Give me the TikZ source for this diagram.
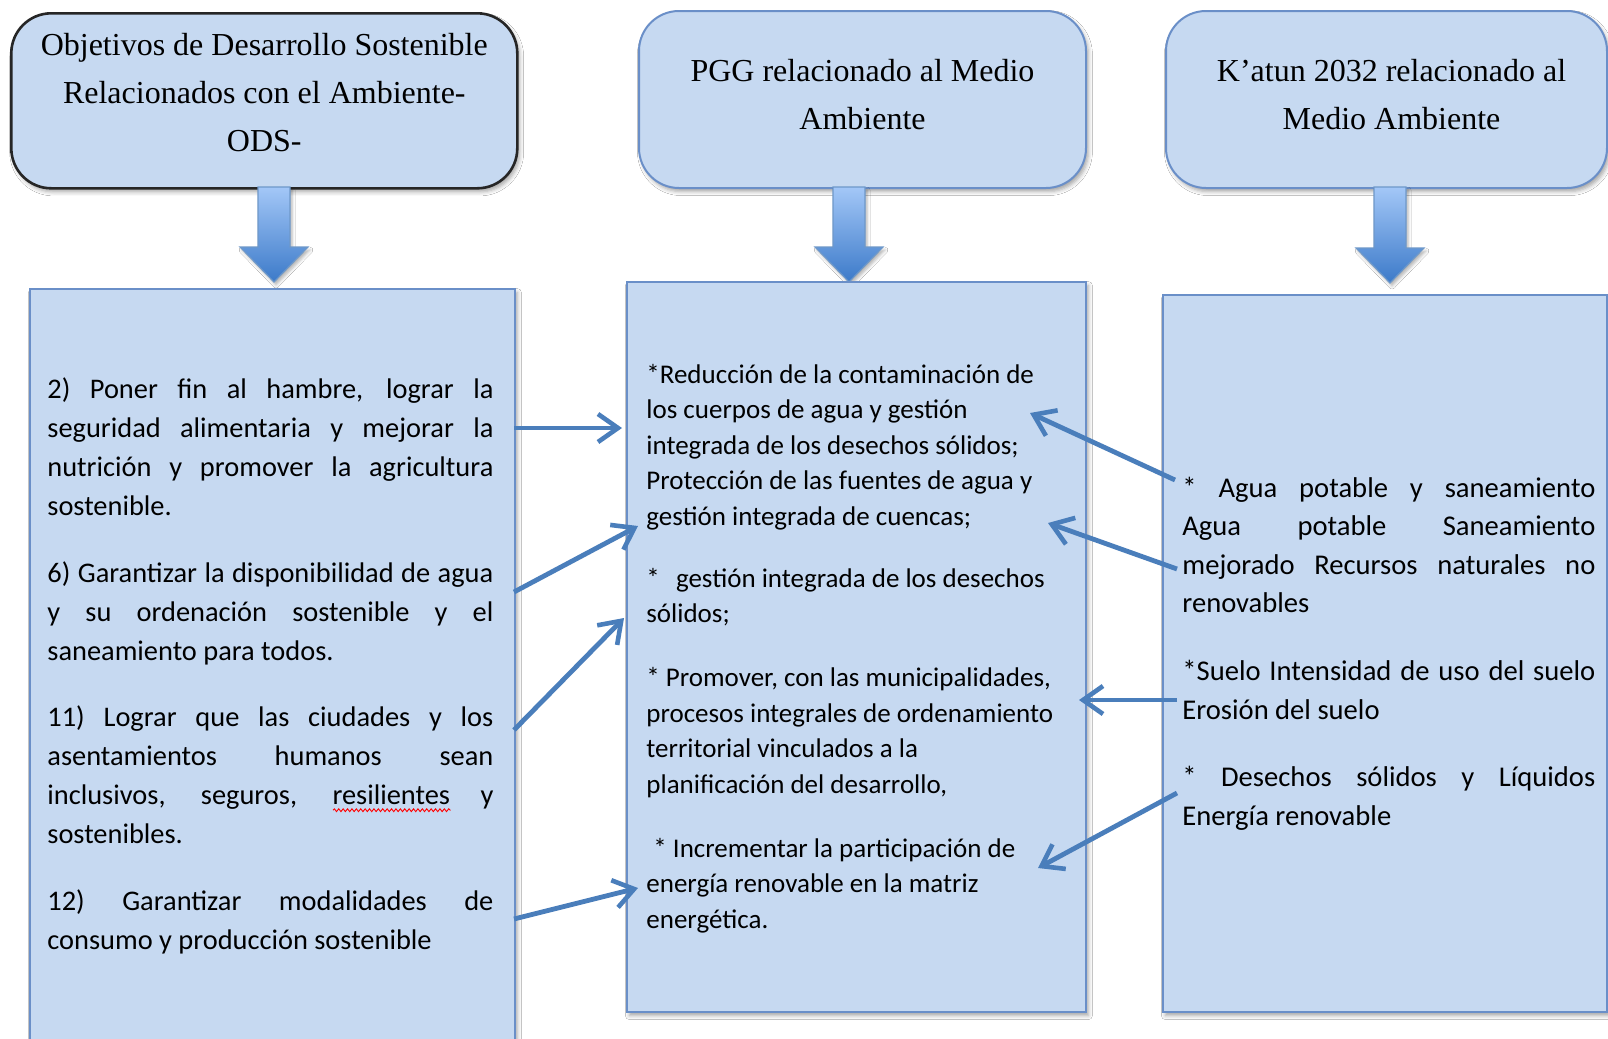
\documentclass[tikz,border=0pt]{standalone}
\usepackage{fontspec}
\setmainfont{Liberation Serif}
\newfontfamily\calfont{Carlito}
\usetikzlibrary{arrows.meta,shadows.blur,decorations.pathmorphing}
\definecolor{boxfill}{HTML}{C6D9F1}
\definecolor{boxline}{HTML}{6A8FC8}
\definecolor{arrowblue}{HTML}{4A7EBB}
\definecolor{shadetop}{HTML}{A3C7F7}
\definecolor{shadebot}{HTML}{3C7AC9}
\newsavebox\wavebox
\newcommand\redwave[1]{\sbox\wavebox{#1}\rlap{\usebox\wavebox}\raisebox{-3pt}{\tikz[baseline=0pt]\draw[red,line width=0.45pt,decorate,decoration={snake,amplitude=0.7pt,segment length=2.2pt}] (0pt,0pt) -- (\wd\wavebox,0pt);}}
\newcommand\jl[1]{\makebox[\linewidth][s]{\spaceskip=0pt\xspaceskip=0pt #1}}
\newcommand\natsp{\spaceskip=0pt\xspaceskip=0pt\relax}
\newcommand\blockdown[3]{%
  \shade[top color=shadetop,bottom color=shadebot,draw=arrowblue!80,line width=0.6pt,
    blur shadow={shadow xshift=1pt,shadow yshift=-1.5pt,shadow blur radius=1.5pt,shadow opacity=30}]
  (#1-16,#2) -- (#1+16,#2) -- (#1+16,#3-35) -- (#1+34,#3-35) -- (#1,#3)
  -- (#1-34,#3-35) -- (#1-16,#3-35) -- cycle;}
\begin{document}
\begin{tikzpicture}[x=0.5pt,y=-0.5pt,
  shad/.style={blur shadow={shadow xshift=1.2pt,shadow yshift=-1.8pt,shadow blur radius=2pt,shadow opacity=35}},
  topbox/.style={rectangle,rounded corners=20pt,fill=boxfill,draw=boxline,line width=1pt,shad,
    inner sep=0pt,anchor=north west},
  ttl/.style={align=center,inner sep=0pt,font=\fontsize{16}{24}\selectfont},
  botbox/.style={rectangle,fill=boxfill,draw=boxline,line width=1pt,shad,inner sep=0pt,anchor=north west},
  txt/.style={inner sep=0pt,align=left,anchor=base west},
  conn/.style={draw=arrowblue,line width=2.4pt,-{Straight Barb[length=10pt,width=14pt,line width=2.3pt]}},
]
\useasboundingbox[fill=white] (0,0) rectangle (1608,1039);

% top boxes
\node[topbox,draw=black!85,line width=1.3pt,minimum width=253pt,minimum height=87.5pt] (t1) at (10,12) {};
\node[topbox,minimum width=223.5pt,minimum height=88.5pt] (t2) at (638,10) {};
\node[topbox,minimum width=220.5pt,minimum height=88.5pt] (t3) at (1165,10) {};
\node[ttl,yshift=4pt] (t1txt) at (t1.center) {Objetivos de Desarrollo Sostenible\\Relacionados con el Ambiente-\\ODS-};
\node[ttl,yshift=2.5pt] (t2txt) at (t2.center) {PGG relacionado al Medio\\Ambiente};
\node[ttl,yshift=2.5pt,xshift=2.5pt] (t3txt) at (t3.center) {K’atun 2032 relacionado al\\Medio Ambiente};

% block arrows
\blockdown{274}{187}{282}
\blockdown{849}{187}{282}
\blockdown{1390}{187}{283}

% bottom boxes
\node[botbox,minimum width=242.5pt,minimum height=390pt] (L) at (29,288) {};
\node[botbox,minimum width=229.5pt,minimum height=365pt] (M) at (626,281) {};
\node[botbox,minimum width=222pt,minimum height=358.5pt] (R) at (1162,294) {};

% left text
\node[txt,text width=223pt,font=\calfont\fontsize{14.2}{19.5}\selectfont] (ltx) at (47,398) {\natsp
\jl{2) Poner fin al hambre, lograr la}\\
\jl{seguridad alimentaria y mejorar la}\\
\jl{nutrición y promover la agricultura}\\
sostenible.\\[14.3pt]
\jl{6) Garantizar la disponibilidad de agua}\\
\jl{y su ordenación sostenible y el}\\
saneamiento para todos.\\[13.3pt]
\jl{11) Lograr que las ciudades y los}\\
\jl{asentamientos humanos sean}\\
\jl{inclusivos, seguros, \redwave{resilientes} y}\\
sostenibles.\\[13.9pt]
\jl{12) Garantizar modalidades de}\\
consumo y producción sostenible};

% middle text
\node[txt,text width=225pt,font=\calfont\fontsize{13.5}{17.75}\selectfont] (mtx) at (646,383) {\natsp
{*}Reducción de la contaminación de\\
los cuerpos de agua y gestión\\
integrada de los desechos sólidos;\\
Protección de las fuentes de agua y\\
gestión integrada de cuencas;\\[13.25pt]
{*}\hspace{0.6em}gestión integrada de los desechos\\
sólidos;\\[14.25pt]
{*} Promover, con las municipalidades,\\
procesos integrales de ordenamiento\\
territorial vinculados a la\\
planificación del desarrollo,\\[14.25pt]
\hspace*{3.5pt}{*} Incrementar la participación de\\
energía renovable en la matriz\\
energética.};

% right text
\node[txt,text width=206.5pt,font=\calfont\fontsize{14.3}{19.3}\selectfont] (rtx) at (1182,497) {\natsp
\jl{{*} Agua potable y saneamiento}\\
\jl{Agua potable Saneamiento}\\
\jl{mejorado Recursos naturales no}\\
renovables\\[14.5pt]
\jl{{*}Suelo Intensidad de uso del suelo}\\
Erosión del suelo\\[14.5pt]
\jl{{*} Desechos sólidos y Líquidos}\\
Energía renovable};

% connector end points
\coordinate (a1s) at (514,428); \coordinate (a1e) at (622,428);
\coordinate (a2s) at (514,592); \coordinate (a2e) at (638,526);
\coordinate (a3s) at (514,730); \coordinate (a3e) at (624,618);
\coordinate (a4s) at (514,919); \coordinate (a4e) at (638,888);
\coordinate (b1s) at (1175,480); \coordinate (b1e) at (1030,413);
\coordinate (b2s) at (1177,569); \coordinate (b2e) at (1048,523);
\coordinate (b3s) at (1177,700); \coordinate (b3e) at (1079,700);
\coordinate (b4s) at (1177,793); \coordinate (b4e) at (1038,868);

\draw[conn] (a1s) -- (a1e);
\draw[conn] (a2s) -- (a2e);
\draw[conn] (a3s) -- (a3e);
\draw[conn] (a4s) -- (a4e);
\draw[conn] (b1s) -- (b1e);
\draw[conn] (b2s) -- (b2e);
\draw[conn] (b3s) -- (b3e);
\draw[conn] (b4s) -- (b4e);
\end{tikzpicture}
\end{document}
